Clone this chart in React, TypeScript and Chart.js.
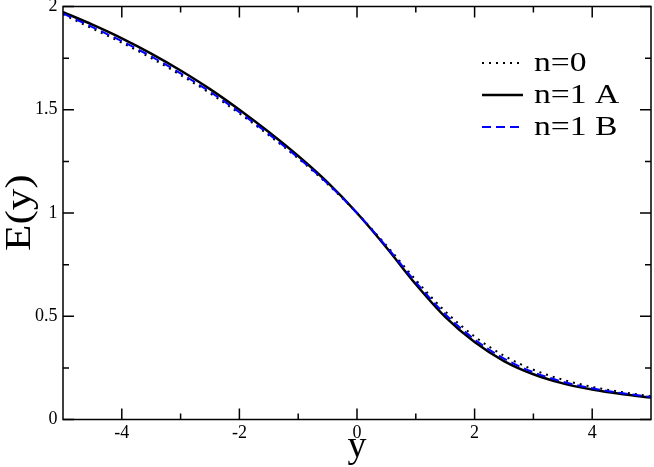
import React, { useEffect, useRef } from "react";
import { Chart, registerables } from "chart.js";

Chart.register(...registerables);

// ---- data ----
const yGrid = [-5, -4.5, -4, -3.5, -3, -2.5, -2, -1.5, -1, -0.5, 0, 0.5, 1, 1.5, 2, 2.5, 3, 3.5, 4, 4.5, 5];
const seriesN0 = [1.962, 1.893, 1.825, 1.75, 1.668, 1.58, 1.482, 1.377, 1.264, 1.14, 1.0, 0.843, 0.676, 0.524, 0.402, 0.309, 0.241, 0.193, 0.158, 0.133, 0.112];
const seriesN1A = [1.973, 1.912, 1.846, 1.772, 1.69, 1.6, 1.5, 1.392, 1.276, 1.148, 1.0, 0.833, 0.655, 0.497, 0.375, 0.283, 0.219, 0.175, 0.145, 0.123, 0.106];
const seriesN1B = [1.966, 1.9, 1.832, 1.758, 1.676, 1.587, 1.488, 1.382, 1.268, 1.143, 1.0, 0.838, 0.665, 0.51, 0.388, 0.295, 0.229, 0.183, 0.151, 0.128, 0.109];

const xMajorTicks = [-4, -2, 0, 2, 4];
const xMinorTicks = [-3, -1, 1, 3];
const yMajorTicks = [0, 0.5, 1, 1.5, 2];
const yMinorTicks = [0.25, 0.75, 1.25, 1.75];
const legendLabels = ["n=0", "n=1 A", "n=1 B"];
const xTitle = "y";
const yTitle = "E(y)";

const SERIF = "'Liberation Serif', 'Times New Roman', serif";

export default function App() {
  const ref = useRef<HTMLCanvasElement>(null);

  useEffect(() => {
    document.body.style.margin = "0";
    const canvas = ref.current;
    if (!canvas) return;

    const decor = {
      id: "decor",
      afterDraw(chart: any) {
        const ctx = chart.ctx as CanvasRenderingContext2D;
        const { left, right, top, bottom } = chart.chartArea;
        const xs = chart.scales.x;
        const ys = chart.scales.y;
        ctx.save();
        ctx.strokeStyle = "#000";
        ctx.lineWidth = 1.5;
        ctx.strokeRect(left, top, right - left, bottom - top);

        const major = 11;
        const minor = 6;
        ctx.beginPath();
        const xt = (v: number, len: number) => {
          const p = xs.getPixelForValue(v);
          ctx.moveTo(p, bottom);
          ctx.lineTo(p, bottom - len);
          ctx.moveTo(p, top);
          ctx.lineTo(p, top + len);
        };
        const yt = (v: number, len: number) => {
          const p = ys.getPixelForValue(v);
          ctx.moveTo(left, p);
          ctx.lineTo(left + len, p);
          ctx.moveTo(right, p);
          ctx.lineTo(right - len, p);
        };
        xMajorTicks.forEach((v) => xt(v, major));
        xMinorTicks.forEach((v) => xt(v, minor));
        yMajorTicks.forEach((v) => yt(v, major));
        yMinorTicks.forEach((v) => yt(v, minor));
        ctx.stroke();

        // tick labels
        ctx.fillStyle = "#000";
        ctx.font = `18px ${SERIF}`;
        ctx.textAlign = "center";
        ctx.textBaseline = "middle";
        xMajorTicks.forEach((v) => {
          ctx.fillText(String(v), xs.getPixelForValue(v), bottom + 13.5);
        });
        ctx.textAlign = "right";
        yMajorTicks.forEach((v) => {
          ctx.fillText(String(v), left - 5.5, ys.getPixelForValue(v));
        });

        // axis titles
        ctx.font = `38px ${SERIF}`;
        ctx.textAlign = "center";
        ctx.textBaseline = "alphabetic";
        ctx.fillText(xTitle, (left + right) / 2, 457);

        ctx.save();
        ctx.translate(30, 251);
        ctx.rotate(-Math.PI / 2);
        ctx.scale(1.2, 1);
        ctx.font = `36px ${SERIF}`;
        ctx.textAlign = "left";
        ctx.textBaseline = "alphabetic";
        ctx.fillText(yTitle, 0, 0);
        ctx.restore();

        // legend
        const rows = [63, 95, 127];
        const styles = [
          { color: "#000", dash: [2, 5], width: 2 },
          { color: "#000", dash: [], width: 2.5 },
          { color: "#0000ff", dash: [9, 5], width: 2 },
        ];
        legendLabels.forEach((lab, i) => {
          const st = styles[i];
          ctx.beginPath();
          ctx.setLineDash(st.dash);
          ctx.strokeStyle = st.color;
          ctx.lineWidth = st.width;
          ctx.moveTo(482, rows[i]);
          ctx.lineTo(523, rows[i]);
          ctx.stroke();
          ctx.setLineDash([]);
          ctx.save();
          ctx.translate(534, rows[i]);
          ctx.scale(1.2, 1);
          ctx.font = `28px ${SERIF}`;
          ctx.textAlign = "left";
          ctx.textBaseline = "middle";
          ctx.fillStyle = "#000";
          ctx.fillText(lab, 0, 1);
          ctx.restore();
        });
        ctx.restore();
      },
    };

    const toPts = (arr: number[]) => yGrid.map((x, i) => ({ x, y: arr[i] }));

    const chart = new Chart(canvas, {
      type: "line",
      data: {
        datasets: [
          {
            label: legendLabels[0],
            data: toPts(seriesN0),
            borderColor: "#000",
            borderWidth: 2,
            borderDash: [2, 5],
            pointRadius: 0,
            cubicInterpolationMode: "monotone",
            order: 2,
          },
          {
            label: legendLabels[1],
            data: toPts(seriesN1A),
            borderColor: "#000",
            borderWidth: 2.5,
            pointRadius: 0,
            cubicInterpolationMode: "monotone",
            order: 1,
          },
          {
            label: legendLabels[2],
            data: toPts(seriesN1B),
            borderColor: "#0000ff",
            borderWidth: 2,
            borderDash: [9, 5],
            pointRadius: 0,
            cubicInterpolationMode: "monotone",
            order: 0,
          },
        ],
      },
      options: {
        responsive: false,
        animation: false,
        events: [],
        layout: { padding: { left: 63, right: 3, top: 6.5, bottom: 47.5 } },
        plugins: { legend: { display: false }, tooltip: { enabled: false } },
        scales: {
          x: { type: "linear", min: -5, max: 5, display: false },
          y: { type: "linear", min: 0, max: 2, display: false },
        },
      },
      plugins: [decor],
    });
    return () => chart.destroy();
  }, []);

  return <canvas ref={ref} width={654} height={467} style={{ display: "block" }} />;
}
